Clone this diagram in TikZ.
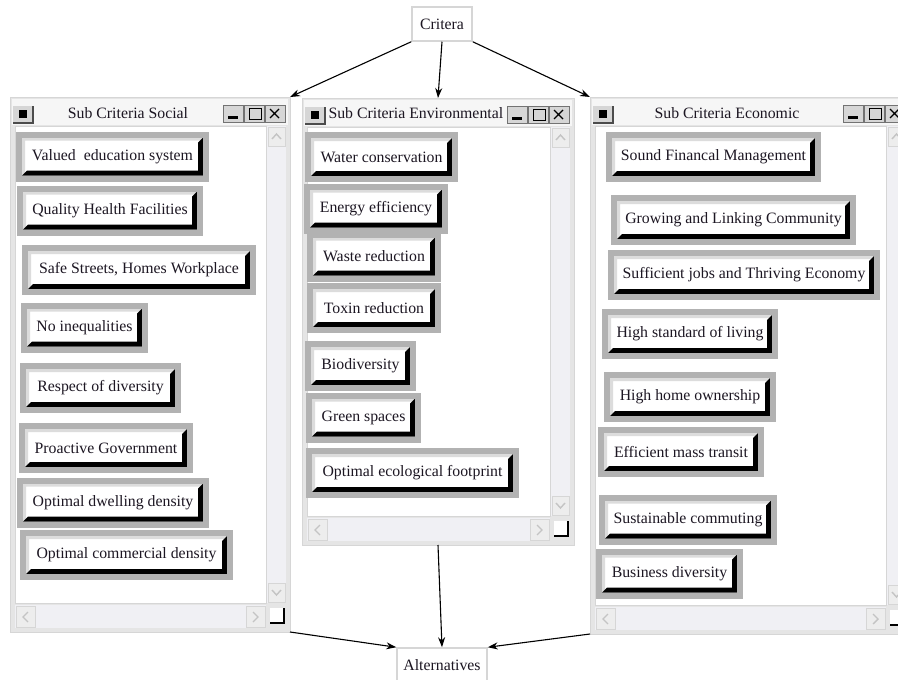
\documentclass[tikz,border=0pt]{standalone}
\usepackage{fontspec}
\setmainfont{Liberation Serif}
\usetikzlibrary{arrows.meta}
\definecolor{framegray}{RGB}{229,229,229}
\definecolor{titlegray}{RGB}{246,246,246}
\definecolor{ringgray}{RGB}{178,178,178}
\definecolor{bevelgray}{RGB}{220,220,220}
\definecolor{facegray}{RGB}{214,214,214}
\definecolor{trackgray}{RGB}{240,240,244}
\definecolor{glyphgray}{RGB}{196,196,196}
\definecolor{boxgray}{RGB}{214,214,214}
\definecolor{ink}{RGB}{28,22,34}
\newcommand{\comma}{,}
\newcommand{\btnfont}{\fontsize{15.8}{18}\selectfont}
\tikzset{
  win/.style={rectangle,anchor=north west,fill=framegray,draw=boxgray,line width=1pt,
    inner sep=0pt,outer sep=0pt},
  knob/.style={fill=facegray,draw=black!55,line width=0.8pt},
  arrowbtn/.style={fill=framegray!70,draw=boxgray,line width=0.8pt},
  chev/.style={glyphgray,line width=1.4pt},
  subbtn/.style={rectangle,fill=white,draw=ringgray,line width=6pt,
    minimum height=44pt,inner sep=0pt,font=\btnfont,text=ink,
    path picture={
      \fill[bevelgray] ([shift={(3pt,3pt)}]path picture bounding box.south west)
        -- ([shift={(3pt,-3pt)}]path picture bounding box.north west)
        -- ([shift={(-3pt,-3pt)}]path picture bounding box.north east)
        -- ([shift={(-6pt,-6pt)}]path picture bounding box.north east)
        -- ([shift={(6pt,-6pt)}]path picture bounding box.north west)
        -- ([shift={(6pt,6pt)}]path picture bounding box.south west) -- cycle;
      \fill[black] ([shift={(3pt,3pt)}]path picture bounding box.south west)
        -- ([shift={(-3pt,3pt)}]path picture bounding box.south east)
        -- ([shift={(-3pt,-3pt)}]path picture bounding box.north east)
        -- ([shift={(-8pt,-8pt)}]path picture bounding box.north east)
        -- ([shift={(-8pt,8pt)}]path picture bounding box.south east)
        -- ([shift={(8pt,8pt)}]path picture bounding box.south west) -- cycle;
    }},
  lbl/.style={rectangle,fill=white,draw=boxgray,line width=1.5pt,minimum height=34pt,
    inner xsep=6pt,font=\btnfont,text=ink},
  link/.style={-{Stealth[length=10pt,width=7pt]},line width=1.1pt,black}
}

\begin{document}
\begin{tikzpicture}[x=1pt,y=-1pt]
  \useasboundingbox (0,0) rectangle (898,680);
  \clip (0,0) rectangle (898,680);
  \fill[white] (0,0) rectangle (898,680);
  % the three windows
  \foreach \wx/\wy/\ww/\wh [count=\i] in {10/97/280/535, 302/98/272/447, 590/97/320/537}
  {
    \node[win,minimum width=\ww pt,minimum height=\wh pt] (win\i) at (\wx,\wy) {};
    \fill[titlegray] (\wx+2,\wy+2) rectangle (\wx+\ww-2,\wy+28);
    \draw[boxgray,fill=white] (\wx+5,\wy+29) rectangle (\wx+\ww-24,\wy+\wh-29);
    \fill[facegray] (\wx+3,\wy+9) rectangle (\wx+23,\wy+26);
    \draw[black!70,line width=1.2pt] (\wx+3,\wy+26) -- (\wx+23,\wy+26) -- (\wx+23,\wy+9);
    \fill[black] (\wx+9,\wy+13) rectangle (\wx+17,\wy+21);
    \foreach \k in {0,1,2}
      \draw[knob] (\wx+\ww-67+21*\k,\wy+8) rectangle ++(20,17);
    \fill[black] (\wx+\ww-62,\wy+19) rectangle ++(10,3);
    \draw[black,line width=1pt] (\wx+\ww-41,\wy+11) rectangle ++(12,11);
    \draw[black,line width=1.4pt] (\wx+\ww-20,\wy+12) -- ++(9,9) (\wx+\ww-11,\wy+12) -- ++(-9,9);
    \fill[trackgray] (\wx+\ww-23,\wy+29) rectangle (\wx+\ww-4,\wy+\wh-29);
    \fill[trackgray] (\wx+5,\wy+\wh-27) rectangle (\wx+\ww-24,\wy+\wh-4);
    \draw[arrowbtn] (\wx+\ww-22,\wy+30) rectangle ++(17,19);
    \draw[chev] (\wx+\ww-18,\wy+42) -- ++(4.5,-5) -- ++(4.5,5);
    \draw[arrowbtn] (\wx+\ww-22,\wy+\wh-49) rectangle ++(17,19);
    \draw[chev] (\wx+\ww-18,\wy+\wh-42) -- ++(4.5,5) -- ++(4.5,-5);
    \draw[arrowbtn] (\wx+6,\wy+\wh-26) rectangle ++(19,21);
    \draw[chev] (\wx+18,\wy+\wh-20) -- ++(-5,5) -- ++(5,5);
    \draw[arrowbtn] (\wx+\ww-44,\wy+\wh-26) rectangle ++(19,21);
    \draw[chev] (\wx+\ww-37,\wy+\wh-20) -- ++(5,5) -- ++(-5,5);
    \fill[white] (\wx+\ww-20,\wy+\wh-24) rectangle ++(14,15);
    \draw[black,line width=1.6pt] (\wx+\ww-20,\wy+\wh-9) -- ++(14,0) -- ++(0,-15);
  }
  \node[font=\btnfont,text=ink] (soc) at (128,113) {Sub Criteria Social};
  \node[font=\btnfont,text=ink,anchor=west] (env) at (325,113) {Sub Criteria Environmental};
  \node[font=\btnfont,text=ink] (eco) at (727,113) {Sub Criteria Economic};
  \foreach \cx/\cy/\w/\t [count=\i] in {
    112.5/156.5/187/Valued\ \ education system,
    110/210.5/180/Quality Health Facilities,
    139/270/228/Safe Streets\comma{} Homes Workplace,
    84.5/327.5/121/No inequalities,
    100.5/388/155/Respect of diversity,
    106/448/168/Proactive Government,
    113/502.5/186/Optimal dwelling density,
    126.5/555/207/Optimal commercial density}
    \node[subbtn,minimum width=\w pt] (s\i) at (\cx,\cy) {\t};
  \foreach \cx/\cy/\w/\t [count=\i] in {
    381.5/157/147/Water conservation,
    376/208.5/138/Energy efficiency,
    374/256.5/128/Waste reduction,
    374/308/128/Toxin reduction,
    360.5/366/105/Biodiversity,
    363.5/417.5/109/Green spaces,
    412.5/473/207/Optimal ecological footprint}
    \node[subbtn,minimum width=\w pt] (e\i) at (\cx,\cy) {\t};
  \foreach \cx/\cy/\w/\t [count=\i] in {
    713.5/157/209/Sound Financal Management,
    733.5/220/239/Growing and Linking Community,
    744/275/266/Sufficient jobs and Thriving Economy,
    690/334/170/High standard of living,
    690/397/166/High home ownership,
    681/452/160/Efficient mass transit,
    688/519.5/172/Sustainable commuting,
    669.5/573.5/141/Business diversity}
    \node[subbtn,minimum width=\w pt] (c\i) at (\cx,\cy) {\t};
  \node[lbl,minimum width=60pt] (crit) at (442,24) {Critera};
  \node[lbl,minimum width=90pt] (alt) at (442,665) {Alternatives};
  \draw[link] (crit.south west) -- (win1.north east);
  \draw[link] (crit.south) -- (win2.north);
  \draw[link] (crit.south east) -- (win3.north west);
  \draw[link] (win1.south east) -- (alt.north west);
  \draw[link] (win2.south) -- (alt.north);
  \draw[link] (win3.south west) -- (alt.north east);
\end{tikzpicture}
\end{document}
